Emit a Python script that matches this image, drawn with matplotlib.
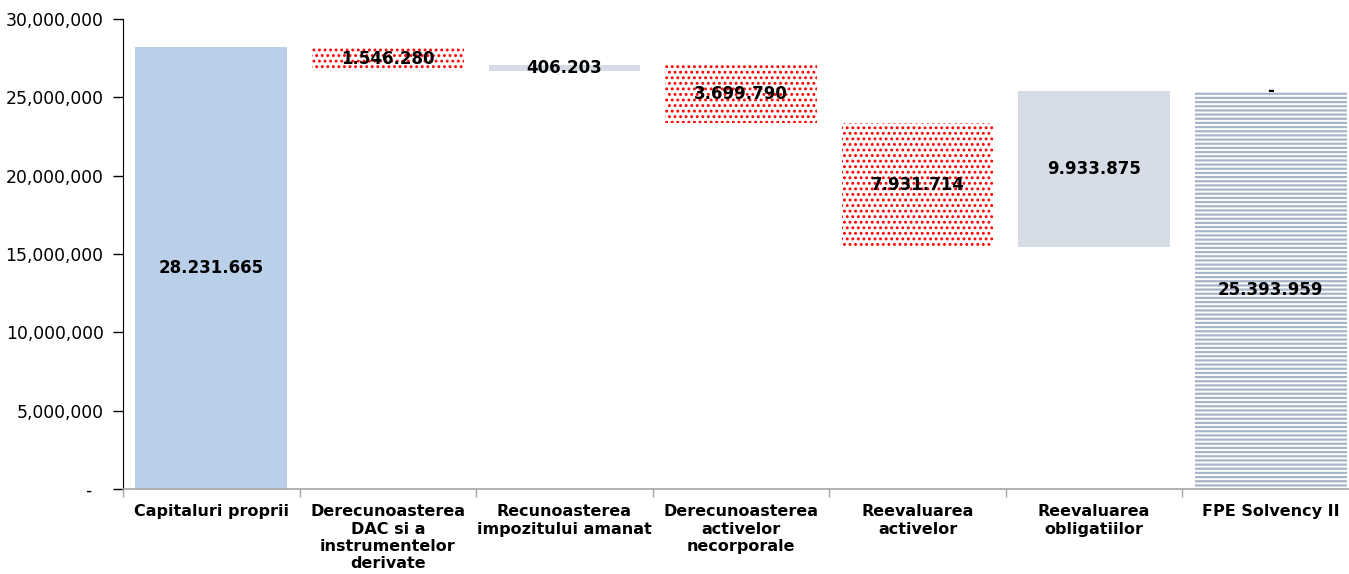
import matplotlib
matplotlib.use("Agg")
import matplotlib.pyplot as plt
from matplotlib.ticker import FuncFormatter, FixedLocator
import numpy as np

categories = ["Capitaluri proprii", "Derecunoasterea\nDAC si a\ninstrumentelor\nderivate",
              "Recunoasterea\nimpozitului amanat", "Derecunoasterea\nactivelor\nnecorporale",
              "Reevaluarea\nactivelor", "Reevaluarea\nobligatiilor", "FPE Solvency II"]
start_value = 28231665
changes = [-1546280, 406203, -3699790, -7931714, 9933875]
final_value = 25393959

plt.rcParams['font.family'] = ['DejaVu Sans']

fig = plt.figure(figsize=(13.49, 5.74), dpi=100)
ax = fig.add_axes([123/1349, 1 - 489/574, 1236/1349, 470/574])

x = np.arange(len(categories))
w = 0.86

def fmt(v):
    return f"{abs(v):,}".replace(",", ".")

lab_kw = dict(ha='center', va='center', fontsize=12, fontweight='bold', color='black')

# start bar
ax.bar(x[0], start_value, width=w, color='#BACFE8', linewidth=0)
ax.text(x[0], start_value / 2, fmt(start_value), **lab_kw)

level = start_value
for i, d in enumerate(changes, start=1):
    lo = min(level, level + d)
    if d < 0:
        with plt.rc_context({'hatch.linewidth': 1.3}):
            ax.bar(x[i], abs(d), bottom=lo, width=w, facecolor='white', edgecolor='#FF0000',
                   hatch='...', linewidth=0)
    else:
        ax.bar(x[i], d, bottom=lo, width=w, color='#D6DCE5', linewidth=0)
    ax.text(x[i], lo + abs(d) / 2, fmt(d), **lab_kw)
    level += d

# final bar
with plt.rc_context({'hatch.linewidth': 1.6}):
    ax.bar(x[-1], final_value, width=w, facecolor='white', edgecolor='#A7B4C9',
           hatch='----', linewidth=0)
ax.text(x[-1], final_value / 2, fmt(final_value), **lab_kw)
ax.text(x[-1], final_value, "-", **lab_kw)

ax.set_xlim(-0.5, len(categories) - 0.5)
ax.set_ylim(0, 30e6)
ax.set_yticks(np.arange(0, 30e6 + 1, 5e6))
ax.yaxis.set_major_formatter(FuncFormatter(lambda v, p: "-  " if v == 0 else f"{int(v):,}"))
ax.tick_params(axis='y', direction='out', length=7, width=1, color='black', labelsize=12.4, pad=7)

ax.set_xticks(x)
ax.set_xticklabels(categories, fontsize=11.5, fontweight='bold')
ax.tick_params(axis='x', which='major', length=0, pad=11)
ax.xaxis.set_minor_locator(FixedLocator(np.arange(-0.5, len(categories), 1.0)))
ax.tick_params(axis='x', which='minor', direction='out', length=6, width=1, color='#A6A6A6')

for s in ['top', 'right']:
    ax.spines[s].set_visible(False)
ax.spines['left'].set_color('black')
ax.spines['bottom'].set_color('#A6A6A6')
ax.spines['bottom'].set_linewidth(1.2)

fig.savefig("out.png", dpi=100)
